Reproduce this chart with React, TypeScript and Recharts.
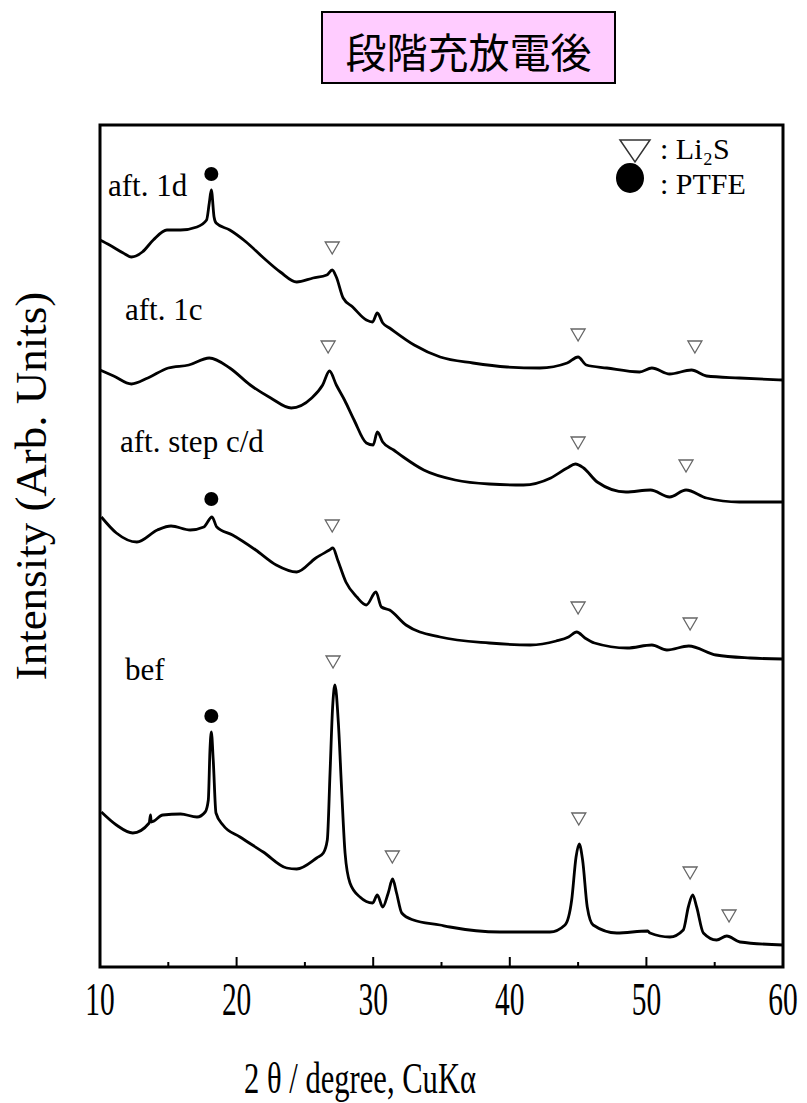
import { ComposedChart, Line, Scatter, XAxis, YAxis, ReferenceArea } from "recharts";

// 2θ (degree) and intensity (arb. units, offset stacked)
const aft1dTheta = [10.0, 10.7, 11.7, 12.3, 13.1, 13.9, 14.9, 15.9, 17.1, 17.8, 18.0, 18.15, 18.35, 18.5, 19.5, 20.7, 21.9, 23.2, 24.4, 25.6, 26.6, 27.0, 27.3, 27.8, 28.5, 29.5, 29.95, 30.3, 30.7, 31.2, 33.0, 34.9, 37.3, 39.8, 42.2, 44.2, 45.0, 45.6, 47.1, 49.5, 50.4, 51.7, 53.3, 54.4, 56.8, 60.0];
const aft1dInt = [727, 722, 714, 710, 715, 727, 737, 737, 740, 747, 764, 777, 750, 744, 737, 725, 710, 695, 685, 689, 692, 697, 690, 669, 660, 647, 645, 654, 644, 639, 622, 610, 604, 600, 599, 604, 610, 602, 599, 595, 599, 593, 597, 591, 589, 587];

const aft1cTheta = [10.0, 11.0, 12.3, 13.5, 15.0, 16.5, 18.0, 19.5, 21.0, 22.5, 24.0, 25.5, 26.3, 26.8, 27.3, 27.9, 28.6, 29.5, 30.0, 30.3, 30.7, 31.5, 32.2, 33.7, 36.0, 38.5, 41.0, 43.0, 44.2, 44.8, 45.4, 46.4, 48.5, 50.3, 51.7, 52.9, 54.4, 56.8, 60.0];
const aft1cInt = [597, 591, 583, 589, 599, 602, 609, 599, 582, 569, 559, 569, 582, 596, 582, 567, 547, 524, 522, 535, 525, 517, 510, 497, 487, 483, 482, 489, 499, 503, 499, 485, 475, 477, 470, 477, 469, 465, 465];

const stepTheta = [10.1, 11.2, 12.7, 14.2, 15.2, 16.6, 17.6, 18.2, 18.55, 19.7, 21.4, 22.9, 24.4, 25.8, 26.8, 27.05, 27.4, 28.0, 28.8, 29.5, 30.2, 30.6, 31.2, 32.4, 34.9, 38.5, 41.5, 43.4, 44.3, 44.9, 45.5, 46.2, 48.6, 50.4, 51.5, 53.1, 55.1, 57.6, 60.0];
const stepInt = [450, 434, 425, 437, 441, 437, 440, 450, 440, 432, 417, 402, 395, 409, 417, 419, 407, 385, 370, 362, 375, 360, 357, 342, 330, 324, 322, 326, 330, 335, 329, 324, 319, 322, 317, 321, 312, 309, 308];

const befTheta = [10.1, 11.2, 12.4, 13.6, 13.7, 13.75, 14.6, 15.9, 17.1, 17.7, 17.93, 18.05, 18.15, 18.29, 18.49, 19.0, 20.25, 21.95, 23.67, 24.4, 25.86, 26.35, 26.64, 26.84, 27.03, 27.2, 27.45, 27.69, 27.94, 28.3, 29.03, 29.96, 30.3, 30.7, 31.1, 31.42, 31.71, 32.09, 32.94, 34.89, 35.62, 39.28, 42.94, 44.04, 44.53, 44.85, 45.08, 45.33, 45.67, 46.1, 47.83, 50.1, 50.26, 51.72, 52.7, 53.07, 53.39, 53.68, 54.17, 55.14, 55.88, 56.85, 60.0];
const befInt = [155, 142, 134, 144, 152, 145, 152, 153, 150, 155, 167, 217, 235, 207, 154, 142, 130, 115, 99, 98, 109, 114, 127, 194, 260, 282, 244, 177, 114, 84, 70, 64, 72, 60, 74, 88, 74, 54, 47, 42, 40, 35, 35, 42, 67, 110, 123, 107, 60, 42, 34, 36, 34, 30, 37, 60, 72, 60, 34, 27, 31, 25, 22];

// peak markers: ▽ Li2S, ● PTFE
const li2sTheta = [27.0, 45.0, 53.55, 26.7, 45.0, 52.9, 27.0, 45.0, 53.2, 27.06, 31.4, 45.05, 53.2, 56.05];
const li2sInt = [719, 632, 620, 620, 524, 501, 441, 359, 343, 305, 110, 148, 94, 51];
const ptfeTheta = [18.15, 18.15, 18.15];
const ptfeInt = [793, 468, 251];

const xTicks = [10, 15, 20, 25, 30, 35, 40, 45, 50, 55, 60];
const majorTicks = [10, 20, 30, 40, 50, 60];

const toPts = (xs: number[], ys: number[]) => xs.map((x, i) => ({ x, y: ys[i] }));

const serif = "'Liberation Serif', 'Times New Roman', serif";

const series = [
  toPts(aft1dTheta, aft1dInt),
  toPts(aft1cTheta, aft1cInt),
  toPts(stepTheta, stepInt),
  toPts(befTheta, befInt),
];

function XTick(props: any) {
  const { x, y, payload } = props;
  const major = majorTicks.includes(payload.value);
  return (
    <g>
      <line x1={x} x2={x} y1={y} y2={y - (major ? 10 : 5)} stroke="#000" strokeWidth={2} />
      {major && (
        <text
          transform={`translate(${x} ${y + 48}) scale(0.64 1)`}
          textAnchor="middle"
          fontFamily={serif}
          fontSize={46}
          fill="#000"
        >
          {payload.value}
        </text>
      )}
    </g>
  );
}

const Tri = (p: any) => (
  <polygon
    points={`${p.cx - 7},${p.cy - 6} ${p.cx + 7},${p.cy - 6} ${p.cx},${p.cy + 6}`}
    fill="#fff"
    stroke="#666"
    strokeWidth={1.3}
  />
);
const Dot = (p: any) => <circle cx={p.cx} cy={p.cy} r={7} fill="#000" />;

export default function App() {
  return (
    <div style={{ position: "absolute", left: 0, top: 0, width: 807, height: 1103, background: "#fff" }}>
      <ComposedChart width={807} height={1103} margin={{ top: 125, right: 24, bottom: 76, left: 100 }}>
        <XAxis
          dataKey="x"
          type="number"
          domain={[10, 60]}
          ticks={xTicks}
          interval={0}
          height={60}
          tickSize={0}
          tickMargin={0}
          tickLine={false}
          tick={<XTick />}
          axisLine={false}
          allowDataOverflow
        />
        <YAxis dataKey="y" type="number" domain={[0, 842]} width={0} hide allowDataOverflow />
        <ReferenceArea x1={10} x2={60} y1={0} y2={842} fill="none" stroke="#000" strokeWidth={3} ifOverflow="visible" />
        {series.map((d, i) => (
          <Line key={i} data={d} dataKey="y" type="monotoneX" stroke="#000" strokeWidth={2.8} dot={false} isAnimationActive={false} />
        ))}
        <Scatter data={toPts(li2sTheta, li2sInt)} shape={Tri} isAnimationActive={false} />
        <Scatter data={toPts(ptfeTheta, ptfeInt)} shape={Dot} isAnimationActive={false} />
      </ComposedChart>
      <svg width={807} height={1103} style={{ position: "absolute", left: 0, top: 0, pointerEvents: "none" }}>
        <rect x={322} y={12} width={293} height={71} fill="#ffccff" stroke="#000" strokeWidth={2} />
        <text x={468.5} y={50} textAnchor="middle" dominantBaseline="central" fontFamily="'Noto Sans CJK JP', sans-serif" fontSize={41} fill="#000">
          段階充放電後
        </text>
        <text transform="translate(46 486) rotate(-90)" textAnchor="middle" fontFamily={serif} fontSize={45} fill="#000">
          Intensity (Arb. Units)
        </text>
        <text transform="translate(360 1093) scale(0.68 1)" textAnchor="middle" fontFamily={serif} fontSize={45} fill="#000">
          2 θ / degree, CuKα
        </text>
        <g fontFamily={serif} fontSize={31} fill="#000">
          <text x={108} y={196}>aft. 1d</text>
          <text x={125} y={320}>aft. 1c</text>
          <text x={120} y={452}>aft. step c/d</text>
          <text x={125} y={680}>bef</text>
        </g>
        <polygon points="620,140 650,140 635,162" fill="#fff" stroke="#333" strokeWidth={1.5} />
        <ellipse cx={630} cy={178} rx={14} ry={15} fill="#000" />
        <g fontFamily={serif} fontSize={30} fill="#000">
          <text x={660} y={159}>: Li₂S</text>
          <text x={660} y={194}>: PTFE</text>
        </g>
      </svg>
    </div>
  );
}
